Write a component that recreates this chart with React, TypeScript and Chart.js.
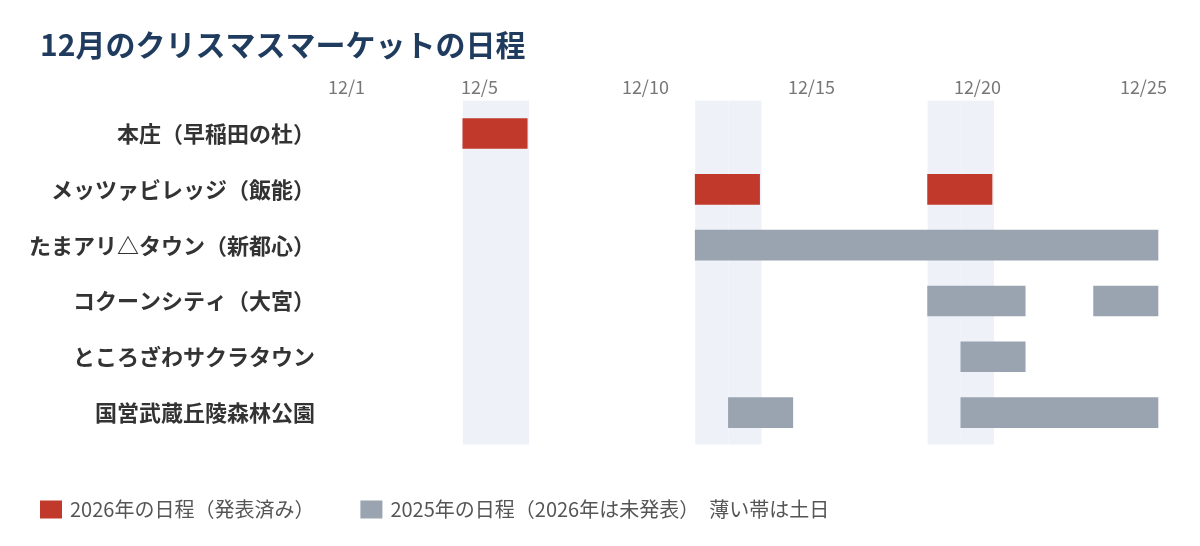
import { useEffect, useRef } from "react";
import { Chart, registerables } from "chart.js";

Chart.register(...registerables);

const FONT = "'Noto Sans CJK JP', 'Noto Sans', sans-serif";

const stores = [
  "本庄（早稲田の杜）",
  "メッツァビレッジ（飯能）",
  "たまアリ△タウン（新都心）",
  "コクーンシティ（大宮）",
  "ところざわサクラタウン",
  "国営武蔵丘陵森林公園",
];

// 2026年の日程（発表済み）
const rows2026 = [stores[0], stores[1], stores[1]];
const start2026 = [5, 12, 19];
const end2026 = [6, 13, 20];

// 2025年の日程（2026年は未発表）
const rows2025 = [stores[2], stores[3], stores[3], stores[4], stores[5], stores[5]];
const start2025 = [12, 19, 24, 20, 13, 20];
const end2025 = [25, 21, 25, 21, 14, 25];

const weekendDays = [5, 6, 12, 13, 19, 20];
const tickDays = [1, 5, 10, 15, 20, 25];
const legendNote = "薄い帯は土日";

const toBars = (rows: string[], starts: number[], ends: number[]) =>
  rows.map((r, i) => ({ y: r, x: [starts[i] - 0.5, ends[i] + 0.44] }));

// light bands behind the weekend days
const weekendBands = {
  id: "weekendBands",
  // the long store names run further left than the title, don't clip them
  afterLayout(chart: any) {
    chart.scales.y.left = 0;
  },
  beforeDatasetsDraw(chart: any) {
    const { ctx, chartArea, scales } = chart;
    ctx.save();
    ctx.fillStyle = "#eef2f8";
    weekendDays.forEach((d) => {
      const l = scales.x.getPixelForValue(d - 0.5);
      const r = scales.x.getPixelForValue(d + 0.5);
      ctx.fillRect(l, chartArea.top - 5, r - l, chartArea.bottom - chartArea.top + 9);
    });
    ctx.restore();
  },
};

// legend row at the bottom, left aligned with the title
const legendRow = {
  id: "legendRow",
  afterDraw(chart: any) {
    const { ctx } = chart;
    const y = 501.5;
    let x = 32;
    ctx.save();
    ctx.font = `20px ${FONT}`;
    ctx.textBaseline = "middle";
    chart.data.datasets.forEach((ds: any) => {
      ctx.fillStyle = ds.backgroundColor;
      ctx.fillRect(x, y - 9, 22, 18);
      ctx.fillStyle = "#555";
      ctx.fillText(ds.label, x + 30, y);
      x += 30 + ctx.measureText(ds.label).width + 46;
    });
    ctx.fillText(legendNote, x - 46 + 10, y);
    ctx.restore();
  },
};

export default function App() {
  const ref = useRef<HTMLCanvasElement>(null);

  useEffect(() => {
    Chart.defaults.font.family = FONT;
    const chart = new Chart(ref.current!, {
      type: "bar",
      data: {
        labels: stores,
        datasets: [
          {
            label: "2026年の日程（発表済み）",
            data: toBars(rows2026, start2026, end2026) as any,
            backgroundColor: "#c0392b",
          },
          {
            label: "2025年の日程（2026年は未発表）",
            data: toBars(rows2025, start2025, end2025) as any,
            backgroundColor: "#9aa4b1",
          },
        ],
      },
      options: {
        indexAxis: "y",
        animation: false,
        responsive: true,
        maintainAspectRatio: false,
        grouped: false,
        barThickness: 30,
        borderSkipped: false,
        layout: { padding: { top: 10, left: 32, right: 32, bottom: 97.5 } },
        scales: {
          x: {
            type: "linear",
            position: "top",
            min: 0.5,
            max: 25.5,
            afterBuildTicks: (s: any) => {
              s.ticks = tickDays.map((v) => ({ value: v }));
            },
            ticks: {
              callback: (v: any) => `12/${v}`,
              autoSkip: false,
              maxRotation: 0,
              padding: 8,
              color: "#777",
              font: { size: 18 },
            },
            grid: { display: false, drawTicks: false },
            border: { display: false },
          },
          y: {
            type: "category",
            offset: true,
            afterFit: (s: any) => {
              s.width = 290;
            },
            ticks: {
              padding: 15,
              color: "#333",
              font: { size: 22, weight: "bold" },
            },
            grid: { display: false, drawTicks: false },
            border: { display: false },
          },
        },
        plugins: {
          legend: { display: false },
          tooltip: { enabled: false },
          title: {
            display: true,
            text: "12月のクリスマスマーケットの日程",
            align: "start",
            color: "#1f3b5e",
            font: { size: 30, weight: "bold" },
            padding: { top: 9, bottom: 5 },
          },
        },
      } as any,
      plugins: [weekendBands, legendRow],
    });
    return () => chart.destroy();
  }, []);

  return (
    <div style={{ position: "relative", height: 530 }}>
      <canvas ref={ref} />
    </div>
  );
}
